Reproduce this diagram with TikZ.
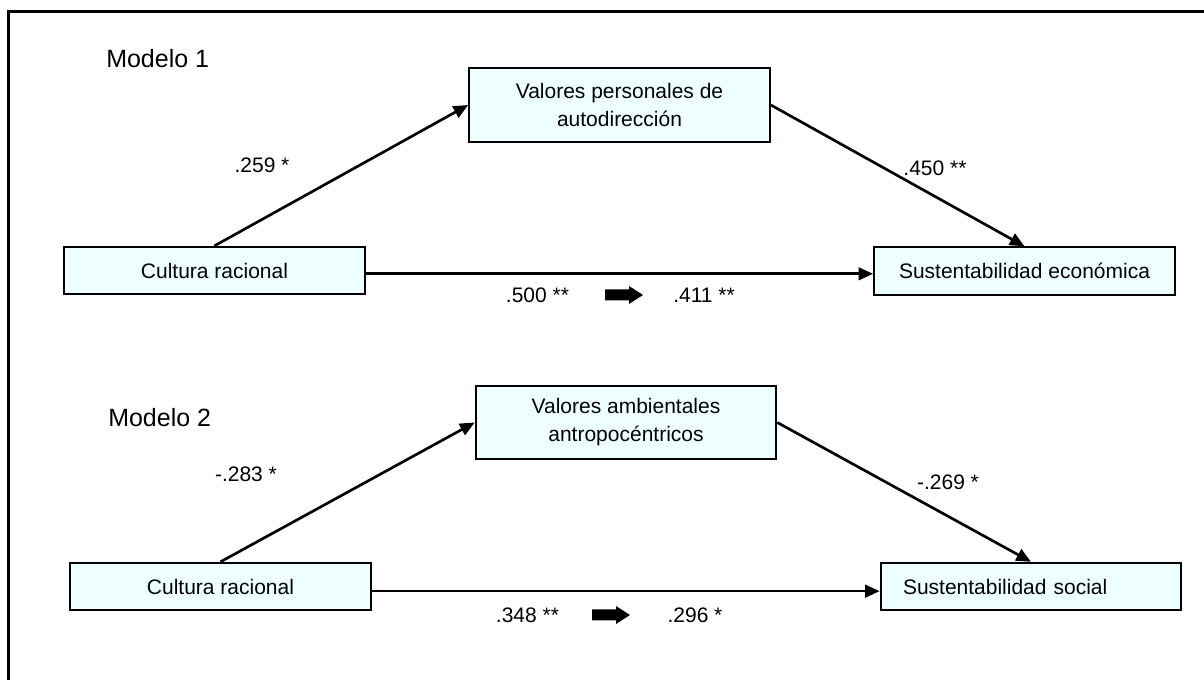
\documentclass[tikz,border=0pt]{standalone}
\usepackage{fontspec}
\setmainfont{Liberation Sans}
\usetikzlibrary{arrows.meta}
\definecolor{boxfill}{RGB}{238,255,255}
\newcommand\fatarrow[1]{%
  \fill[black] #1 ++(0,-5.5) -- ++(24,0) -- ++(0,-3.5) -- ++(14,9)
    -- ++(-14,9) -- ++(0,-3.5) -- ++(-24,0) -- cycle;}
\begin{document}
\begin{tikzpicture}[x=0.75pt,y=-0.75pt,
  box/.style={draw=black, line width=1.5pt, fill=boxfill, inner sep=0pt,
    minimum width=225.5pt, minimum height=35.5pt, align=center,
    font=\fontsize{15.75}{21}\selectfont},
  tallbox/.style={box, minimum height=55.25pt},
  link/.style={line width=2pt, -{Triangle[length=11pt,width=9.5pt]}},
  coef/.style={font=\fontsize{15.75}{19}\selectfont},
  modeltitle/.style={anchor=west, inner sep=0pt, font=\fontsize{18.75}{22}\selectfont}]
\useasboundingbox (0,0) rectangle (1204,680);

% frame
\draw[line width=2.25pt] (1204,12) -- (8,12) -- (8,680);

% ---- Modelo 1 ----
\node[modeltitle] (m1) at (106,59) {Modelo 1};
\node[box] (a1) at (214.5,270.5) {Cultura racional};
\node[tallbox] (b1) at (619.5,105) {Valores personales de\\autodirección};
\node[box] (c1) at (1024.5,271) {Sustentabilidad económica};

\draw[link] (a1.north) -- (b1.west);
\draw[link] (b1.east) -- (c1.north);
\draw[link] ([yshift=-2.5pt]a1.east) -- ([yshift=-2.5pt]a1.east -| c1.west);

\node[coef] (k1) at (262,165) {.259 *};
\node[coef] (k2) at (935,168) {.450 **};
\node[coef] (k3) at (537.5,295) {.500 **};
\node[coef] (k4) at (704,295) {.411 **};
\fatarrow{(605,295)}

% ---- Modelo 2 ----
\node[modeltitle] (m2) at (108,418) {Modelo 2};
\node[box] (a2) at (220.5,586.5) {Cultura racional};
\node[tallbox] (b2) at (626,422.5) {Valores ambientales\\antropocéntricos};
\node[box, text width=192pt, align=left] (c2) at (1031,586.5) {Sustentabilidad social};

\draw[link] (a2.north) -- (b2.west);
\draw[link] (b2.east) -- (c2.north);
\draw[link] ([yshift=-3.5pt]a2.east) -- ([yshift=-3.5pt]a2.east -| c2.west);

\node[coef] (k5) at (246,474) {-.283 *};
\node[coef] (k6) at (948,482) {-.269 *};
\node[coef] (k7) at (527.5,615) {.348 **};
\node[coef] (k8) at (695,615) {.296 *};
\fatarrow{(592,615)}
\end{tikzpicture}
\end{document}
